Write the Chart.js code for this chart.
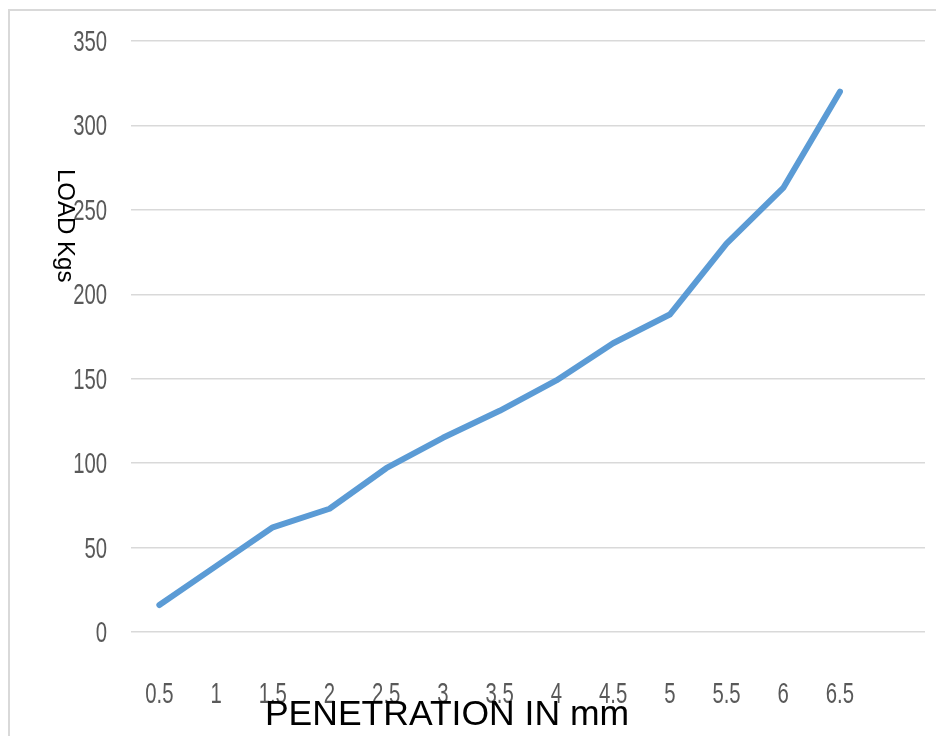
<!DOCTYPE html>
<html>
<head>
<meta charset="utf-8">
<script src="https://cdn.jsdelivr.net/npm/chart.js@4/dist/chart.umd.min.js"></script>
<style>
  html, body { margin: 0; padding: 0; background: #ffffff; }
  #wrap { position: relative; width: 936px; height: 736px; }
  canvas { display: block; }
</style>
</head>
<body>
<div id="wrap"><canvas id="cbr" width="936" height="736"></canvas></div>
<script>
// Penetration (mm) and the load read at each step (kg)
const penetration = [0.5, 1, 1.5, 2, 2.5, 3, 3.5, 4, 4.5, 5, 5.5, 6, 6.5];
const loadKgs = [16, 39, 62, 73, 97, 115, 131, 149, 171, 188, 230, 263, 320];
const loadTicks = [0, 50, 100, 150, 200, 250, 300, 350];

// one blank slot after 6.5 leaves the empty band on the right of the plot
const xLabels = penetration.map(String).concat(['']);
const yValues = loadKgs.concat([null]);

const tickFontCss = '29px "Liberation Sans", Arial, sans-serif';
const tickSquash = 0.7;   // narrow, condensed-looking tick numerals

function drawSquashed(ctx, text, x, y, align) {
  ctx.save();
  ctx.translate(x, y);
  ctx.scale(tickSquash, 1);
  ctx.textAlign = align;
  ctx.textBaseline = 'alphabetic';
  ctx.fillText(text, 0, 0);
  ctx.restore();
}

const frameAndTitles = {
  id: 'frameAndTitles',
  beforeDraw(chart) {
    const ctx = chart.ctx;
    ctx.save();
    ctx.fillStyle = '#ffffff';
    ctx.fillRect(0, 0, chart.width, chart.height);
    ctx.strokeStyle = '#d9d9d9';
    ctx.lineWidth = 2;
    ctx.beginPath();
    ctx.moveTo(9, chart.height);
    ctx.lineTo(9, 10);
    ctx.lineTo(chart.width, 10);
    ctx.stroke();
    ctx.restore();
  },
  afterDraw(chart) {
    const ctx = chart.ctx;
    const area = chart.chartArea;
    const xs = chart.scales.x;
    const ys = chart.scales.y;
    ctx.save();

    // tick labels, placed by the scales
    ctx.fillStyle = '#595959';
    ctx.font = tickFontCss;
    xs.ticks.forEach((t, i) => {
      const label = xs.getLabelForValue(t.value);
      if (label !== '') drawSquashed(ctx, label, xs.getPixelForTick(i), area.bottom + 71, 'center');
    });
    ys.ticks.forEach((t) => {
      drawSquashed(ctx, String(t.value), area.left - 24, ys.getPixelForValue(t.value) + 10, 'right');
    });

    ctx.fillStyle = '#000000';
    // horizontal axis title, sitting over the tick labels
    ctx.font = '35.5px "Liberation Sans", Arial, sans-serif';
    ctx.textAlign = 'center';
    ctx.textBaseline = 'alphabetic';
    ctx.fillText('PENETRATION IN mm', area.left + 316, area.bottom + 93);
    // vertical axis title, reading top to bottom
    ctx.font = '24px "Liberation Sans", Arial, sans-serif';
    ctx.textAlign = 'left';
    ctx.translate(area.left - 73, area.top + 128);
    ctx.rotate(Math.PI / 2);
    ctx.fillText('LOAD Kgs', 0, 0);
    ctx.restore();
  }
};

new Chart(document.getElementById('cbr'), {
  type: 'line',
  data: {
    labels: xLabels,
    datasets: [{
      label: 'LOAD Kgs',
      data: yValues,
      borderColor: '#5b9bd5',
      backgroundColor: '#5b9bd5',
      borderWidth: 6,
      borderCapStyle: 'round',
      borderJoinStyle: 'round',
      tension: 0,
      pointRadius: 0,
      fill: false
    }]
  },
  options: {
    responsive: false,
    animation: false,
    devicePixelRatio: 1,
    layout: { padding: { top: 41, right: 11, left: 0, bottom: 0 } },
    plugins: {
      legend: { display: false },
      tooltip: { enabled: false },
      title: { display: false }
    },
    scales: {
      x: {
        type: 'category',
        offset: true,
        grid: { display: false, drawTicks: false },
        border: { display: false },
        ticks: { display: false, autoSkip: false, maxRotation: 0 },
        afterFit(scale) { scale.height = 104; }
      },
      y: {
        min: 0,
        max: 350,
        afterBuildTicks(scale) { scale.ticks = loadTicks.map(v => ({ value: v })); },
        grid: { color: '#d9d9d9', lineWidth: 1.5, drawTicks: false },
        border: { display: false },
        ticks: { display: false },
        afterFit(scale) { scale.width = 131; }
      }
    }
  },
  plugins: [frameAndTitles]
});
</script>
</body>
</html>
